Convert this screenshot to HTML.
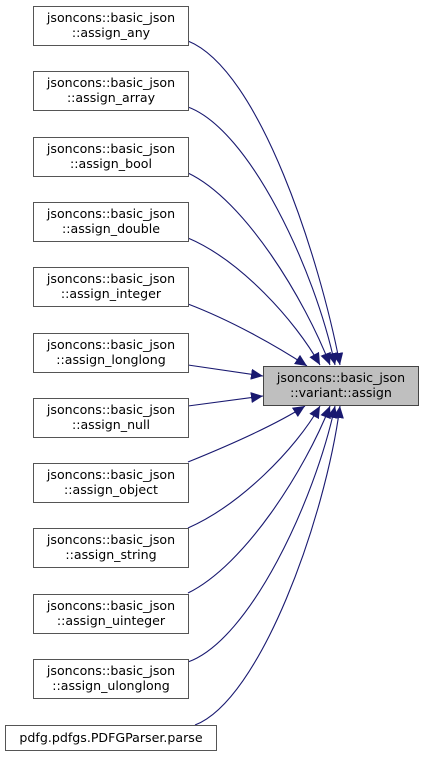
<!DOCTYPE html>
<html><head><style>body{margin:0;background:#fff}svg{display:block}</style></head><body>
<svg width="424" height="757" viewBox="0 0 424 757" xmlns="http://www.w3.org/2000/svg" font-family="DejaVu Sans, Liberation Sans, sans-serif" font-size="12.6">
<defs><marker id="a" markerUnits="userSpaceOnUse" markerWidth="13" markerHeight="11" refX="12" refY="5.5" orient="auto"><path d="M0,0 L12,5.5 L0,11 z" fill="#191970"/></marker></defs>
<g fill="none" stroke="#191970" stroke-width="1.1" marker-end="url(#a)">
<path d="M188,41 C260,70 320,260 340,365"/>
<path d="M188,107 C250,130 315,270 335,365"/>
<path d="M188,173 C245,200 305,300 330,365"/>
<path d="M188,238 C240,260 295,320 320,365"/>
<path d="M188,304 C230,320 275,345 307,366"/>
<path d="M188,365 L263,376"/>
<path d="M188,406 L263,396"/>
<path d="M188,462 C230,445 275,425 305,406"/>
<path d="M188,528 C240,505 295,450 320,406"/>
<path d="M188,593 C245,565 305,470 330,406"/>
<path d="M188,662 C250,640 315,500 335,406"/>
<path d="M195,725 C260,700 325,520 340,406"/>
</g>
<g fill="#fff" stroke="#555" stroke-width="1">
<rect x="33.5" y="6.5" width="155" height="39"/>
<rect x="33.5" y="71.5" width="155" height="39"/>
<rect x="33.5" y="137.5" width="155" height="39"/>
<rect x="33.5" y="202.5" width="155" height="39"/>
<rect x="33.5" y="267.5" width="155" height="39"/>
<rect x="33.5" y="333.5" width="155" height="39"/>
<rect x="33.5" y="398.5" width="155" height="39"/>
<rect x="33.5" y="463.5" width="155" height="39"/>
<rect x="33.5" y="528.5" width="155" height="39"/>
<rect x="33.5" y="594.5" width="155" height="39"/>
<rect x="33.5" y="659.5" width="155" height="39"/>
<rect x="5.5" y="725.5" width="211" height="25"/>
<rect x="263.5" y="366.5" width="155" height="39" fill="#bfbfbf" stroke="#444"/>
</g>
<g fill="#000" text-anchor="middle">
<text x="111" y="22">jsoncons::basic_json</text><text x="111" y="37">::assign_any</text>
<text x="111" y="87">jsoncons::basic_json</text><text x="111" y="102">::assign_array</text>
<text x="111" y="153">jsoncons::basic_json</text><text x="111" y="168">::assign_bool</text>
<text x="111" y="218">jsoncons::basic_json</text><text x="111" y="233">::assign_double</text>
<text x="111" y="283">jsoncons::basic_json</text><text x="111" y="298">::assign_integer</text>
<text x="111" y="349">jsoncons::basic_json</text><text x="111" y="364">::assign_longlong</text>
<text x="111" y="414">jsoncons::basic_json</text><text x="111" y="429">::assign_null</text>
<text x="111" y="479">jsoncons::basic_json</text><text x="111" y="494">::assign_object</text>
<text x="111" y="544">jsoncons::basic_json</text><text x="111" y="559">::assign_string</text>
<text x="111" y="610">jsoncons::basic_json</text><text x="111" y="625">::assign_uinteger</text>
<text x="111" y="675">jsoncons::basic_json</text><text x="111" y="690">::assign_ulonglong</text>
<text x="111" y="742">pdfg.pdfgs.PDFGParser.parse</text>
<text x="341" y="382">jsoncons::basic_json</text><text x="341" y="397">::variant::assign</text>
</g>
</svg>
</body></html>
